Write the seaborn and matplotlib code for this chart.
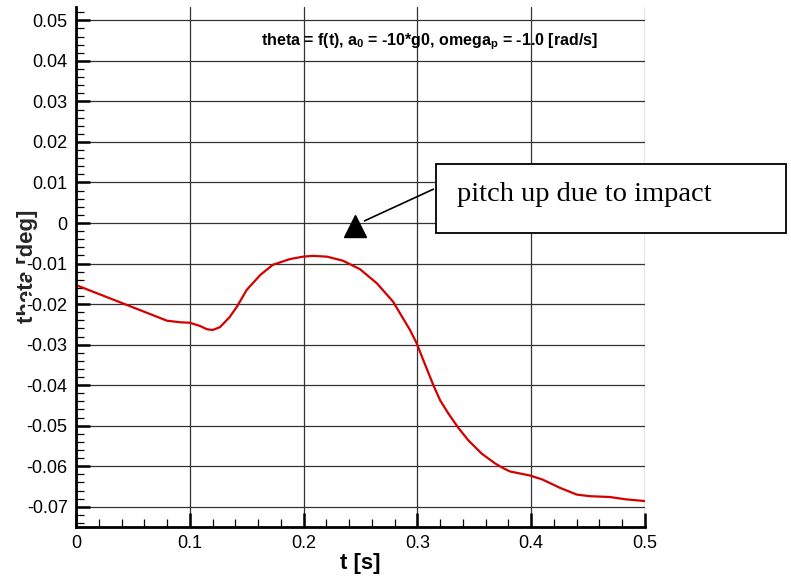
import matplotlib
matplotlib.use("Agg")
import matplotlib.pyplot as plt
from matplotlib.patches import Rectangle
from matplotlib.ticker import MultipleLocator
import seaborn as sns
import pandas as pd

# pitch angle vs time
t_s = [0.0, 0.02, 0.04, 0.06, 0.08, 0.092, 0.1, 0.109, 0.115, 0.120, 0.1265,
       0.135, 0.1415, 0.150, 0.162, 0.173, 0.188, 0.1995, 0.208, 0.2206,
       0.2346, 0.2496, 0.2645, 0.2786, 0.2935, 0.2994, 0.305, 0.314, 0.3199,
       0.3272, 0.3359, 0.3447, 0.3565, 0.3682, 0.3755, 0.3814, 0.399, 0.410,
       0.425, 0.44, 0.4517, 0.469, 0.484, 0.5]
theta_deg = [-0.0153, -0.0175, -0.0197, -0.0219, -0.0241, -0.0245, -0.0246,
             -0.0254, -0.0262, -0.0264, -0.0257, -0.0232, -0.0206, -0.0165,
             -0.0128, -0.0103, -0.0089, -0.0083, -0.0081, -0.0083, -0.0093,
             -0.0114, -0.0149, -0.0194, -0.0264, -0.0297, -0.0337, -0.0400,
             -0.0437, -0.0470, -0.0505, -0.0536, -0.0569, -0.0593, -0.0605,
             -0.0613, -0.0623, -0.0633, -0.0653, -0.0670, -0.0674, -0.0676,
             -0.0682, -0.0686]

x_ticks = [0, 0.1, 0.2, 0.3, 0.4, 0.5]
x_labels = ["0", "0.1", "0.2", "0.3", "0.4", "0.5"]
y_ticks = [-0.07, -0.06, -0.05, -0.04, -0.03, -0.02, -0.01, 0,
           0.01, 0.02, 0.03, 0.04, 0.05]
y_labels = ["-0.07", "-0.06", "-0.05", "-0.04", "-0.03", "-0.02", "-0.01", "0",
            "0.01", "0.02", "0.03", "0.04", "0.05"]

df = pd.DataFrame({"t": t_s, "theta": theta_deg})

sns.set_theme(style="white")
plt.rcParams["font.family"] = ["Liberation Sans", "DejaVu Sans"]
plt.rcParams["mathtext.fontset"] = "custom"
plt.rcParams["mathtext.rm"] = "Liberation Sans:bold"
plt.rcParams["mathtext.bf"] = "Liberation Sans:bold"

fig = plt.figure(figsize=(7.91, 5.80), dpi=100)
ax = fig.add_axes([76 / 791, 53 / 580, 569 / 791, 520 / 580])

sns.lineplot(data=df, x="t", y="theta", ax=ax, color="#d40000", linewidth=1.6)

ax.set_xlim(0, 0.5)
ax.set_ylim(-0.075, 0.0533)
ax.set_xticks(x_ticks)
ax.set_xticklabels(x_labels)
ax.set_yticks(y_ticks)
ax.set_yticklabels(y_labels)
ax.xaxis.set_minor_locator(MultipleLocator(0.02))
ax.yaxis.set_minor_locator(MultipleLocator(0.002))

ax.grid(True, which="major", color="#333333", linewidth=0.9)
ax.tick_params(which="major", direction="in", length=10, width=1.8,
               color="black", labelsize=13, pad=6, labelcolor="black")
ax.tick_params(which="minor", direction="in", length=6, width=0.9,
               color="black")
ax.tick_params(axis="both", which="both", bottom=True, left=True)

for side in ["top", "right"]:
    ax.spines[side].set_visible(False)
for side in ["left", "bottom"]:
    ax.spines[side].set_color("black")
    ax.spines[side].set_linewidth(2)

# tick labels on white, so they hide parts of the y label like the original
for lab in ax.get_yticklabels():
    lab.set_bbox(dict(facecolor="white", edgecolor="none", pad=1))

ax.set_ylabel("")
ax.set_xlabel("t [s]", fontsize=16, fontweight="bold", color="black")
ax.xaxis.set_label_coords(0.499, -0.05)
fig.text(27 / 791, 1 - 266 / 580, "theta [deg]", rotation=90, fontsize=16,
         fontweight="bold", ha="center", va="center", zorder=-1)

ax.text(0.621, 0.934,
        r"theta = f(t), a$_\mathbf{0}$ = -10*g0, omega$_\mathbf{p}$ = -1.0 [rad/s]",
        transform=ax.transAxes, ha="center", va="center", fontsize=11.5,
        fontweight="bold", color="black")

# annotation box
ax.add_patch(Rectangle((0.6327, 0.5654), 0.6151, 0.1326,
                       transform=ax.transAxes, facecolor="white",
                       edgecolor="black", linewidth=1.3, clip_on=False,
                       zorder=5))
ax.text(0.6696, 0.627, "pitch up due to impact", transform=ax.transAxes,
        fontsize=20.5, family=["Liberation Serif", "DejaVu Serif"],
        ha="left", va="baseline", color="black", zorder=6, clip_on=False)
ax.annotate("", xy=(0.2513, 0.00025), xytext=(0.3163, 0.00864),
            arrowprops=dict(arrowstyle="-", color="black", linewidth=1.2),
            zorder=6)
ax.plot([0.2452], [-0.0008], marker="^", markersize=16, color="black",
        zorder=6)

fig.savefig("out.png", dpi=100)
